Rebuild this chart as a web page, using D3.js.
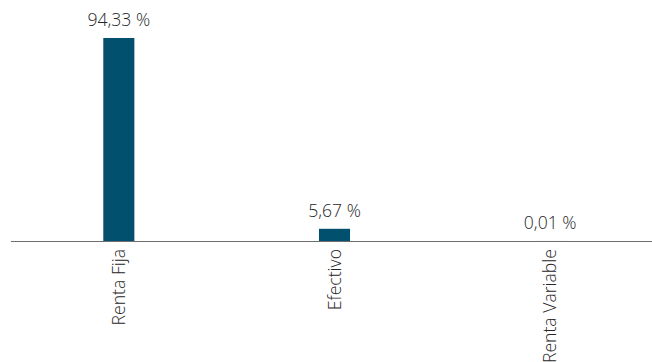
<!DOCTYPE html>
<html>
<head>
<meta charset="utf-8">
<script src="https://cdn.jsdelivr.net/npm/d3@7"></script>
<style>
  html, body { margin: 0; padding: 0; background: #fff; }
  svg { display: block; }
  text { font-family: "Open Sans", sans-serif; font-weight: 300; fill: #262626; }
</style>
</head>
<body>
<svg id="chart" width="652" height="362"></svg>
<script>
const categories = ["Renta Fija", "Efectivo", "Renta Variable"];
const values = [94.33, 5.67, 0.01];
const valueLabels = ["94,33 %", "5,67 %", "0,01 %"];

const svg = d3.select("#chart");
const baseY = 241;

const x = d3.scaleBand()
  .domain(categories)
  .range([11, 658])
  .paddingInner(0.856)
  .paddingOuter(0.428);

const y = d3.scaleLinear()
  .domain([0, 94.33])
  .range([baseY, 38]);

svg.selectAll("rect.bar")
  .data(values)
  .enter().append("rect")
  .attr("class", "bar")
  .attr("x", (d, i) => x(categories[i]))
  .attr("width", x.bandwidth())
  .attr("y", d => y(d))
  .attr("height", d => baseY - y(d))
  .attr("fill", "#00506e");

svg.selectAll("text.val")
  .data(values)
  .enter().append("text")
  .attr("class", "val")
  .attr("x", (d, i) => x(categories[i]) + x.bandwidth() / 2)
  .attr("y", d => y(d) - 12)
  .attr("text-anchor", "middle")
  .attr("font-size", 17.6)
  .text((d, i) => valueLabels[i]);

const axis = d3.axisBottom(x).tickSize(0).tickPadding(0);
const g = svg.append("g").attr("transform", `translate(0,${baseY})`).call(axis);
g.select(".domain").attr("stroke", "#6e6e6e").attr("stroke-width", 1).attr("d", "M11,0.5H652");
g.selectAll(".tick text")
  .attr("font-family", "'Open Sans', sans-serif")
  .attr("font-size", 17.6)
  .attr("fill", "#262626")
  .attr("transform", "rotate(-90)")
  .attr("text-anchor", "end")
  .attr("x", -8)
  .attr("y", 0)
  .attr("dy", "0.35em");
</script>
</body>
</html>
